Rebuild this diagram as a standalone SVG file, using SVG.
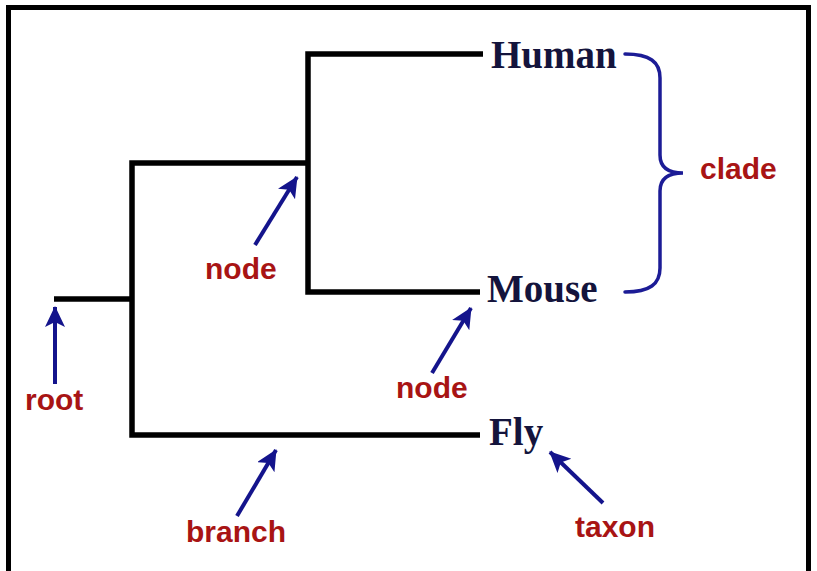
<svg xmlns="http://www.w3.org/2000/svg" width="817" height="571" viewBox="0 0 817 571">
  <style>
    .tree { fill: none; stroke: #000; stroke-width: 5.5; stroke-linejoin: miter; stroke-linecap: butt; }
    .arrow { fill: none; stroke: #14148c; stroke-width: 4; marker-end: url(#ah); }
    .brace { fill: none; stroke: #1c1c96; stroke-width: 3.5; stroke-linecap: round; }
    .taxon { font-family: "Liberation Serif", "Times New Roman", serif; font-weight: bold; font-size: 39px; fill: #14143c; }
    .label { font-family: "Liberation Sans", Arial, sans-serif; font-weight: bold; font-size: 30px; fill: #a81414; }
  </style>
  <defs>
    <marker id="ah" markerUnits="userSpaceOnUse" markerWidth="24" markerHeight="24" refX="20" refY="10" orient="auto">
      <path d="M0,0 L21,10 L0,20 L5,10 Z" fill="#14148c"/>
    </marker>
  </defs>
  <rect x="0" y="0" width="817" height="571" fill="#fff"/>
  <rect x="8.5" y="7.5" width="800" height="600" fill="none" stroke="#000" stroke-width="5"/>

  <g id="connectors">
    <path class="tree" d="M54,299 H132"/>
    <path class="tree" d="M480,435 H132 V163 H308"/>
    <path class="tree" d="M483,54 H308 V292 H480"/>
    <path class="brace" d="M625,54 C650,54 660,62 660,78 V155 C660,167 668,173 683,173 C668,173 660,179 660,191 V268 C660,284 650,292 625,292"/>
    <line class="arrow" x1="55" y1="384" x2="55" y2="307"/>
    <line class="arrow" x1="255" y1="245" x2="297" y2="177"/>
    <line class="arrow" x1="432" y1="373" x2="471" y2="308"/>
    <line class="arrow" x1="237" y1="516" x2="276" y2="450"/>
    <line class="arrow" x1="603" y1="503" x2="550" y2="452"/>
  </g>

  <g id="human"><text class="taxon" x="491" y="68">Human</text></g>
  <g id="mouse"><text class="taxon" x="487" y="302">Mouse</text></g>
  <g id="fly"><text class="taxon" x="489" y="445">Fly</text></g>
  <g id="label-clade"><text class="label" x="700" y="179">clade</text></g>
  <g id="label-root"><text class="label" x="25" y="410">root</text></g>
  <g id="label-node1"><text class="label" x="205" y="279">node</text></g>
  <g id="label-node2"><text class="label" x="396" y="398">node</text></g>
  <g id="label-branch"><text class="label" x="186" y="542">branch</text></g>
  <g id="label-taxon"><text class="label" x="575" y="537">taxon</text></g>
</svg>
